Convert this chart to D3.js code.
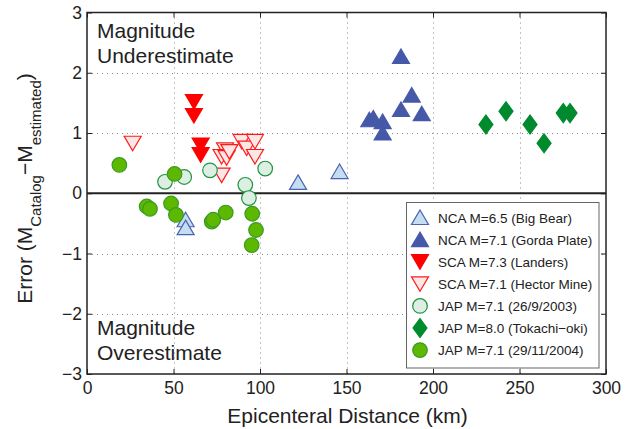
<!DOCTYPE html>
<html>
<head>
<meta charset="utf-8">
<script src="https://cdn.jsdelivr.net/npm/d3@7"></script>
<style>
  body { margin: 0; background: #fff; }
  svg { font-family: "Liberation Sans", Arial, sans-serif; }
</style>
</head>
<body>
<svg id="chart"></svg>
<script>
// Chart size
const width = 637;
const height = 429;

// Axis ticks
const xTicks = [0, 50, 100, 150, 200, 250, 300];
const yTicks = [-3, -2, -1, 0, 1, 2, 3];

// Data: [distance km, error]
const bigBear = [[57, -0.44], [57, -0.57], [122, 0.18], [146, 0.36]];
const gordaPlate = [[181.5, 2.27], [187.7, 1.63], [181.5, 1.39], [193.5, 1.32],
    [163.2, 1.22], [165.5, 1.25], [170.9, 1.19], [170.9, 1.0]];
const landers = [[61.8, 1.52], [61.8, 1.29], [65.7, 0.80], [65.7, 0.64]];
const hectorMine = [[26.4, 0.83], [79.8, 0.72], [77.8, 0.61], [80.7, 0.59], [82.3, 0.69],
    [89.4, 0.86], [92.3, 0.75], [97.1, 0.86], [97.1, 0.61], [77.8, 0.30]];
const jap2003 = [[45.1, 0.19], [56.2, 0.27], [71.1, 0.38], [91.5, 0.14], [93.6, -0.08], [103, 0.41]];
const tokachi = [[230.6, 1.14], [242.2, 1.36], [256.1, 1.14], [264.2, 0.83], [275.3, 1.33], [279.2, 1.33]];
const jap2004 = [[18.7, 0.47], [50.6, 0.32], [34.5, -0.22], [36.4, -0.26], [48.6, -0.17],
    [51.4, -0.36], [72.1, -0.47], [73.0, -0.44], [80.2, -0.32], [95.5, -0.34], [97.7, -0.61], [95.2, -0.86]];

// Marker shapes (relative to centre)
const shapes = {
    up: "M0,-7.5L8.5,7L-8.5,7Z",
    down: "M0,7.5L8.5,-7L-8.5,-7Z",
    circle: "M7.3,0A7.3,7.3 0 1,1 -7.3,0A7.3,7.3 0 1,1 7.3,0Z",
    diamond: "M0,-9.5L7,0L0,9.5L-7,0Z"
};

const series = [
    { label: "NCA M=6.5 (Big Bear)", data: bigBear, shape: "up", fill: "#c4ddf1", stroke: "#4a62b0" },
    { label: "NCA M=7.1 (Gorda Plate)", data: gordaPlate, shape: "up", fill: "#4559a8", stroke: "#4559a8" },
    { label: "SCA M=7.3 (Landers)", data: landers, shape: "down", fill: "#ff0000", stroke: "#ff0000" },
    { label: "SCA M=7.1 (Hector Mine)", data: hectorMine, shape: "down", fill: "#fde6e6", stroke: "#ff1a1a" },
    { label: "JAP M=7.1 (26/9/2003)", data: jap2003, shape: "circle", fill: "#dcefe2", stroke: "#1f9441" },
    { label: "JAP M=8.0 (Tokachi\u2212oki)", data: tokachi, shape: "diamond", fill: "#008a2e", stroke: "#008a2e" },
    { label: "JAP M=7.1 (29/11/2004)", data: jap2004, shape: "circle", fill: "#5cb800", stroke: "#3b9a22" }
];

const svg = d3.select("#chart")
    .attr("width", width)
    .attr("height", height);

// Plot area
const plotLeft = 87, plotRight = 606, plotTop = 12.5, plotBottom = 374;

const x = d3.scaleLinear().domain([0, 300]).range([plotLeft, plotRight]);
const y = d3.scaleLinear().domain([-3, 3]).range([plotBottom, plotTop]);

// Grid lines (dotted)
const grid = svg.append("g").attr("stroke", "#888").attr("stroke-width", 1)
    .attr("stroke-dasharray", "1,4");
grid.selectAll(".gx").data(xTicks.slice(1, -1)).enter().append("line")
    .attr("x1", d => Math.round(x(d)) + 0.5).attr("x2", d => Math.round(x(d)) + 0.5)
    .attr("y1", plotTop).attr("y2", plotBottom);
grid.selectAll(".gy").data(yTicks.slice(1, -1).filter(d => d !== 0)).enter().append("line")
    .attr("y1", d => Math.round(y(d)) + 0.5).attr("y2", d => Math.round(y(d)) + 0.5)
    .attr("x1", plotLeft).attr("x2", plotRight);

// Zero line
svg.append("line")
    .attr("x1", plotLeft).attr("x2", plotRight)
    .attr("y1", y(0)).attr("y2", y(0))
    .attr("stroke", "#222").attr("stroke-width", 2);

// Axes with inward ticks (box style)
const axisStyle = g => {
    g.select(".domain").remove();
    g.selectAll(".tick line").attr("stroke", "#222");
    g.selectAll(".tick text").attr("fill", "#222").style("font-size", "17.5px")
        .style("font-family", "'Liberation Sans', Arial, sans-serif");
};
const fmt = d => d < 0 ? "\u2212" + Math.abs(d) : String(d);

svg.append("g").attr("transform", `translate(0,${plotBottom})`)
    .call(d3.axisBottom(x).tickValues(xTicks).tickSizeInner(-5).tickSizeOuter(0).tickPadding(8))
    .call(axisStyle);
svg.append("g").attr("transform", `translate(0,${plotTop})`)
    .call(d3.axisTop(x).tickValues(xTicks).tickSizeInner(-5).tickSizeOuter(0).tickFormat(""))
    .call(axisStyle);
svg.append("g").attr("transform", `translate(${plotLeft},0)`)
    .call(d3.axisLeft(y).tickValues(yTicks).tickSizeInner(-5).tickSizeOuter(0).tickPadding(5).tickFormat(fmt))
    .call(axisStyle);
svg.append("g").attr("transform", `translate(${plotRight},0)`)
    .call(d3.axisRight(y).tickValues(yTicks).tickSizeInner(-5).tickSizeOuter(0).tickFormat(""))
    .call(axisStyle);

// Box
svg.append("rect")
    .attr("x", plotLeft).attr("y", plotTop)
    .attr("width", plotRight - plotLeft).attr("height", plotBottom - plotTop)
    .attr("fill", "none").attr("stroke", "#222").attr("stroke-width", 1.5);

// Annotations
const note = svg.append("g").attr("fill", "#222").style("font-size", "21px");
note.append("text").attr("x", plotLeft + 10).attr("y", 38).text("Magnitude");
note.append("text").attr("x", plotLeft + 10).attr("y", 63).text("Underestimate");
note.append("text").attr("x", plotLeft + 10).attr("y", 335).text("Magnitude");
note.append("text").attr("x", plotLeft + 10).attr("y", 360).text("Overestimate");

// Points
series.forEach(s => {
    svg.append("g").selectAll("path")
        .data(s.data)
        .enter()
        .append("path")
        .attr("d", shapes[s.shape])
        .attr("transform", d => `translate(${x(d[0])},${y(d[1])})`)
        .attr("fill", s.fill)
        .attr("stroke", s.stroke)
        .attr("stroke-width", 1.2);
});

// Legend
const legend = svg.append("g");
legend.append("rect")
    .attr("x", 406.5).attr("y", 202.5)
    .attr("width", 192.5).attr("height", 165.5)
    .attr("fill", "#fff").attr("stroke", "#666").attr("stroke-width", 1);

const rows = legend.selectAll(".row")
    .data(series)
    .enter()
    .append("g")
    .attr("transform", (d, i) => `translate(420,${217.5 + i * 22.1})`);
rows.append("path")
    .attr("d", d => shapes[d.shape])
    .attr("fill", d => d.fill)
    .attr("stroke", d => d.stroke)
    .attr("stroke-width", 1.2);
rows.append("text")
    .attr("x", 18).attr("y", 5)
    .attr("fill", "#222")
    .style("font-size", "13.5px")
    .text(d => d.label);

// Axis titles
svg.append("text")
    .attr("x", 347.5).attr("y", 423)
    .attr("text-anchor", "middle")
    .attr("fill", "#222")
    .style("font-size", "21px")
    .text("Epicenteral Distance (km)");

const yTitle = svg.append("text")
    .attr("transform", "translate(32,188.5) rotate(-90)")
    .attr("text-anchor", "middle")
    .attr("fill", "#222")
    .style("font-size", "21px");
yTitle.append("tspan").text("Error (M");
yTitle.append("tspan").attr("dy", 9).style("font-size", "15px").text("Catalog");
yTitle.append("tspan").attr("dy", -9).text("\u2212M");
yTitle.append("tspan").attr("dy", 9).style("font-size", "15px").text("estimated");
yTitle.append("tspan").attr("dy", -9).text(")");
</script>
</body>
</html>
